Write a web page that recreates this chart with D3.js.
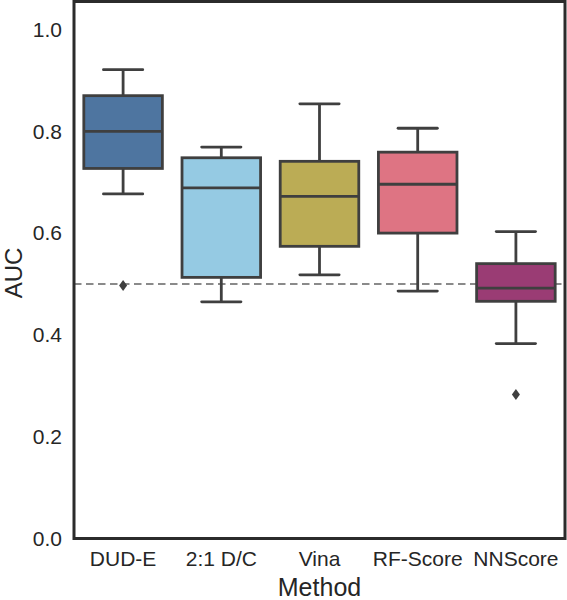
<!DOCTYPE html>
<html><head><meta charset="utf-8">
<script src="https://cdn.jsdelivr.net/npm/d3@7"></script>
<style>body{margin:0;background:#fff}svg{display:block}text{font-family:"Liberation Sans",Arial,sans-serif;fill:#262626}</style>
</head><body><svg id="c" width="567" height="600"></svg>
<script>
const categories = ["DUD-E","2:1 D/C","Vina","RF-Score","NNScore"];
const whiskerLow  = [0.677,0.465,0.518,0.486,0.383];
const q1          = [0.727,0.513,0.574,0.600,0.466];
const medians     = [0.800,0.689,0.672,0.696,0.492];
const q3          = [0.870,0.748,0.741,0.759,0.540];
const whiskerHigh = [0.921,0.769,0.854,0.806,0.603];
const outliers    = [[0.497],[],[],[],[0.283]];
const colors = ["#4e75a0","#95cae3","#bbac55","#de7483","#9a3c74"];
const yTicks = [0.0,0.2,0.4,0.6,0.8,1.0];
const refLine = 0.5;

const svg = d3.select("#c");
const L=74, R=565, T=1.5, B=538.5;
const x = d3.scaleBand().domain(categories).range([L,R]).paddingInner(0).paddingOuter(0);
const y = d3.scaleLinear().domain([0,1.055]).range([B,T]);
const stroke="#3f3f3f";
const sw=2.8;
const bw = x.bandwidth()*0.8;

svg.append("line").attr("x1",L).attr("x2",R).attr("y1",y(refLine)).attr("y2",y(refLine))
  .attr("stroke","#8a8a8a").attr("stroke-width",2.2).attr("stroke-dasharray","7.5,4.5");

const g = svg.append("g");
categories.forEach((c,i)=>{
  const cx = x(c)+x.bandwidth()/2;
  g.append("line").attr("x1",cx).attr("x2",cx).attr("y1",y(whiskerHigh[i])).attr("y2",y(q3[i])).attr("stroke",stroke).attr("stroke-width",sw);
  g.append("line").attr("x1",cx).attr("x2",cx).attr("y1",y(q1[i])).attr("y2",y(whiskerLow[i])).attr("stroke",stroke).attr("stroke-width",sw);
  [whiskerHigh[i],whiskerLow[i]].forEach(v=>{
    g.append("line").attr("x1",cx-bw/4).attr("x2",cx+bw/4).attr("y1",y(v)).attr("y2",y(v)).attr("stroke",stroke).attr("stroke-width",sw).attr("stroke-linecap","round");
  });
  g.append("rect").attr("x",cx-bw/2).attr("width",bw).attr("y",y(q3[i])).attr("height",y(q1[i])-y(q3[i]))
    .attr("fill",colors[i]).attr("stroke",stroke).attr("stroke-width",sw);
  g.append("line").attr("x1",cx-bw/2).attr("x2",cx+bw/2).attr("y1",y(medians[i])).attr("y2",y(medians[i])).attr("stroke",stroke).attr("stroke-width",sw);
  outliers[i].forEach(v=>{
    const yy=y(v);
    g.append("path").attr("d",`M${cx},${yy-5.5} L${cx+4},${yy} L${cx},${yy+5.5} L${cx-4},${yy} Z`).attr("fill",stroke);
  });
});

svg.append("rect").attr("x",L).attr("y",T).attr("width",R-L).attr("height",B-T).attr("fill","none").attr("stroke","#2b2b2b").attr("stroke-width",3);

const ya = svg.append("g").attr("transform",`translate(${L},0)`).call(d3.axisLeft(y).tickValues(yTicks).tickFormat(d3.format(".1f")).tickSize(0).tickPadding(12));
ya.select(".domain").remove();
ya.selectAll("text").attr("font-size",21).attr("font-family","Liberation Sans, Arial, sans-serif").attr("fill","#262626");

const xa = svg.append("g").attr("transform",`translate(0,${B})`).call(d3.axisBottom(x).tickSize(0).tickPadding(13));
xa.select(".domain").remove();
xa.selectAll("text").attr("font-size",21).attr("font-family","Liberation Sans, Arial, sans-serif").attr("fill","#262626");

svg.append("text").attr("x",(L+R)/2).attr("y",596).attr("text-anchor","middle").attr("font-size",25).text("Method");
svg.append("text").attr("transform",`translate(22,${(T+B)/2+3}) rotate(-90)`).attr("text-anchor","middle").attr("font-size",24).text("AUC");
</script></body></html>
